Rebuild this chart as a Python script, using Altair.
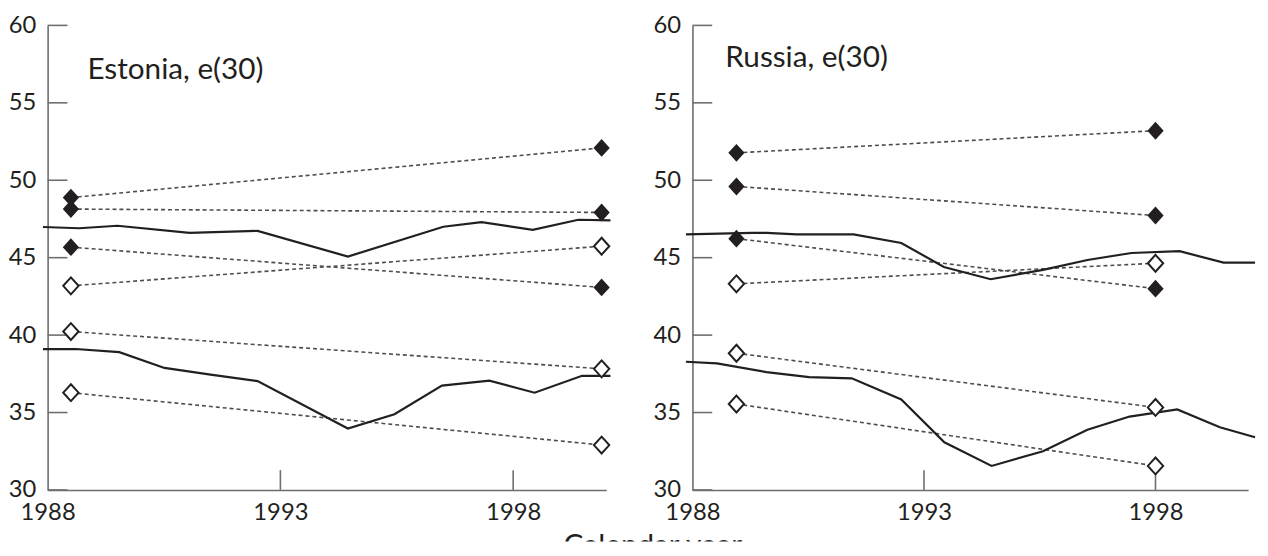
import altair as alt
import pandas as pd

FONT = "Lato"
INK = "#231f20"
AXIS_GRAY = "#6d6e71"
DOT_GRAY = "#4d4d4f"

# ---------------- data ----------------
y_tick_values = [30, 35, 40, 45, 50, 55, 60]
x_tick_values = [1988, 1993, 1998]
inner_x_ticks = [1993, 1998]

# Estonia
est_upper_years = [1987.9, 1988.68, 1989.5, 1991.05, 1992.51, 1994.45, 1996.5, 1997.32, 1998.42, 1999.4, 2000.09]
est_upper_vals = [46.98, 46.9, 47.06, 46.6, 46.73, 45.07, 47.0, 47.29, 46.8, 47.45, 47.41]
est_lower_years = [1987.9, 1988.6, 1989.54, 1990.51, 1991.5, 1992.51, 1994.45, 1995.45, 1996.47, 1997.49, 1998.46, 1999.48, 2000.09]
est_lower_vals = [39.1, 39.1, 38.9, 37.88, 37.45, 37.03, 33.97, 34.89, 36.74, 37.06, 36.28, 37.37, 37.37]
est_pair_years = [1988.5, 1999.9]
est_filled_left = [48.88, 48.14, 45.68]
est_filled_right = [52.09, 47.92, 43.08]
est_open_left = [43.18, 40.23, 36.28]
est_open_right = [45.74, 37.82, 32.9]
est_label = "Estonia, e(30)"
est_label_pos = [1988.855, 56.53]

# Russia
rus_upper_years = [1987.86, 1989.29, 1989.6, 1990.25, 1991.48, 1992.51, 1993.43, 1994.44, 1995.57, 1996.53, 1997.48, 1998.52, 1999.47, 2000.15]
rus_upper_vals = [46.5, 46.6, 46.6, 46.5, 46.5, 45.95, 44.4, 43.61, 44.21, 44.85, 45.3, 45.42, 44.68, 44.68]
rus_lower_years = [1987.86, 1988.53, 1989.6, 1990.52, 1991.44, 1992.51, 1993.44, 1994.46, 1995.57, 1996.53, 1997.44, 1998.47, 1999.39, 2000.15]
rus_lower_vals = [38.28, 38.17, 37.61, 37.29, 37.21, 35.84, 33.08, 31.55, 32.5, 33.89, 34.74, 35.2, 34.05, 33.4]
rus_pair_years = [1988.95, 1998.0]
rus_filled_left = [51.77, 49.6, 46.23]
rus_filled_right = [53.2, 47.72, 43.0]
rus_open_left = [43.31, 38.83, 35.55]
rus_open_right = [44.64, 35.33, 31.55]
rus_label = "Russia, e(30)"
rus_label_pos = [1988.71, 57.34]

x_title = "Calendar year"

PLOT_H = 469
TICK_LEN = 20
DIAMOND = "M0,-1.1L1,0L0,1.1L-1,0Z"


def panel(width, up_years, up_vals, lo_years, lo_vals, pair_years, fl, fr, ol, orr, label, label_pos):
    xscale = alt.Scale(domain=[1988, 2000], nice=False, zero=False)
    yscale = alt.Scale(domain=[30, 60], nice=False, zero=False)
    xaxis = alt.Axis(values=x_tick_values, format="d", title=None, grid=False, ticks=False,
                     tickSize=0, labelFontSize=24, labelFont=FONT, labelColor=INK,
                     labelPadding=11, labelFlush=False, labelOverlap=False,
                     domainColor=AXIS_GRAY, domainWidth=1.6)
    yaxis = alt.Axis(values=y_tick_values, format="d", title=None, grid=False, ticks=False,
                     tickSize=0, labelFontSize=24, labelFont=FONT, labelColor=INK,
                     labelPadding=12, labelFlush=False, labelOverlap=False,
                     domainColor=AXIS_GRAY, domainWidth=1.6)
    X = alt.X("year:Q", scale=xscale, axis=xaxis)
    Y = alt.Y("val:Q", scale=yscale, axis=yaxis)

    lines = pd.DataFrame({
        "year": up_years + lo_years,
        "val": up_vals + lo_vals,
        "series": ["upper"] * len(up_years) + ["lower"] * len(lo_years),
    })
    rows_f, rows_o = [], []
    for i, (a, b) in enumerate(zip(fl, fr)):
        rows_f += [{"year": pair_years[0], "val": a, "pair": f"f{i}"},
                   {"year": pair_years[1], "val": b, "pair": f"f{i}"}]
    for i, (a, b) in enumerate(zip(ol, orr)):
        rows_o += [{"year": pair_years[0], "val": a, "pair": f"o{i}"},
                   {"year": pair_years[1], "val": b, "pair": f"o{i}"}]
    filled = pd.DataFrame(rows_f)
    opened = pd.DataFrame(rows_o)
    pairs = pd.concat([filled, opened], ignore_index=True)

    yt = pd.DataFrame({"val": y_tick_values})
    xt = pd.DataFrame({"year": inner_x_ticks})
    lab = pd.DataFrame({"year": [label_pos[0]], "val": [label_pos[1]], "t": [label]})

    ytick = alt.Chart(yt).mark_rule(color=AXIS_GRAY, strokeWidth=1.6).encode(
        y=Y, x=alt.value(0), x2=alt.value(TICK_LEN))
    xtick = alt.Chart(xt).mark_rule(color=AXIS_GRAY, strokeWidth=1.6).encode(
        x=X, y=alt.value(PLOT_H), y2=alt.value(PLOT_H - TICK_LEN))
    dotted = alt.Chart(pairs).mark_line(strokeDash=[4, 3], strokeWidth=1.6, color=DOT_GRAY).encode(
        x=X, y=Y, detail="pair:N")
    solid = alt.Chart(lines).mark_line(color=INK, strokeWidth=2.2).encode(
        x=X, y=Y, detail="series:N")
    pf = alt.Chart(filled).mark_point(shape=DIAMOND, filled=True, size=270, color=INK, opacity=1).encode(
        x=X, y=Y)
    po = alt.Chart(opened).mark_point(shape=DIAMOND, filled=True, fill="white", stroke=INK,
                                      strokeWidth=2, size=240, opacity=1).encode(x=X, y=Y)
    txt = alt.Chart(lab).mark_text(align="left", baseline="alphabetic", font=FONT, fontSize=30,
                                   color=INK).encode(x=X, y=Y, text="t:N")
    return alt.layer(ytick, xtick, dotted, solid, pf, po, txt).properties(width=width, height=PLOT_H)


est = panel(564, est_upper_years, est_upper_vals, est_lower_years, est_lower_vals, est_pair_years,
            est_filled_left, est_filled_right, est_open_left, est_open_right, est_label, est_label_pos)
rus = panel(561, rus_upper_years, rus_upper_vals, rus_lower_years, rus_lower_vals, rus_pair_years,
            rus_filled_left, rus_filled_right, rus_open_left, rus_open_right, rus_label, rus_label_pos)

row = alt.hconcat(est, rus, spacing=87, bounds="flush")

bottom = alt.Chart(pd.DataFrame({"t": [x_title]})).mark_text(
    align="center", baseline="top", font=FONT, fontSize=30, color=INK, clip=True
).encode(x=alt.value(611), y=alt.value(5), text="t:N").properties(width=1180, height=15)

chart = alt.vconcat(row, bottom, spacing=2).properties(
    padding={"left": 0, "top": 3, "right": 0, "bottom": 0}
).configure_view(strokeWidth=0)

chart.save("out.html", embed_options={"renderer": "svg", "actions": False})
